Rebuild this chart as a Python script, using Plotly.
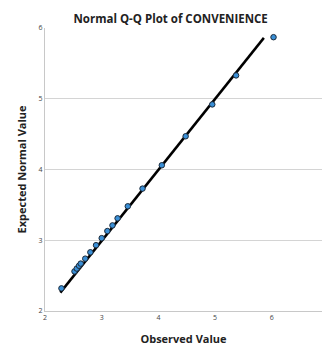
import plotly.graph_objects as go

observed = [2.29, 2.52, 2.56, 2.60, 2.63, 2.71, 2.80, 2.90, 3.00, 3.10, 3.19, 3.28, 3.46, 3.72, 4.06, 4.48, 4.95, 5.37, 6.03]
expected = [2.32, 2.56, 2.60, 2.64, 2.67, 2.74, 2.83, 2.93, 3.03, 3.13, 3.21, 3.31, 3.48, 3.73, 4.06, 4.47, 4.92, 5.33, 5.87]
line_x = [2.27, 5.86]
line_y = [2.26, 5.86]
xticks = [2, 3, 4, 5, 6]
yticks = [2, 3, 4, 5, 6]

fig = go.Figure()
fig.add_trace(go.Scatter(x=line_x, y=line_y, mode="lines",
                         line=dict(color="black", width=2.5), showlegend=False))
fig.add_trace(go.Scatter(x=observed, y=expected, mode="markers",
                         marker=dict(color="#3a8fd6", size=5.5,
                                     line=dict(color="#1b2a3a", width=1)),
                         showlegend=False))
fig.update_layout(
    width=322, height=347,
    margin=dict(l=45, r=0, t=28, b=36),
    plot_bgcolor="white", paper_bgcolor="white",
    font=dict(family="Open Sans", color="#222"),
    title=dict(text="<b>Normal Q-Q Plot of CONVENIENCE</b>", x=0.53, xanchor="center",
               y=0.945, yanchor="middle", font=dict(size=11.5, color="#222")),
    xaxis=dict(range=[2, 6.885], tickvals=xticks, showgrid=False, zeroline=False,
               showline=True, linecolor="#c8c8c8", linewidth=1, ticks="",
               tickfont=dict(size=7, color="#444"),
               title=dict(text="<b>Observed Value</b>", font=dict(size=11, color="#222"), standoff=13)),
    yaxis=dict(range=[2, 6], tickvals=yticks, showgrid=True, gridcolor="#d4d4d4", gridwidth=1,
               zeroline=False, showline=True, linecolor="#c8c8c8", linewidth=1, ticks="",
               tickfont=dict(size=7, color="#444"),
               title=dict(text="<b>Expected Normal Value</b>", font=dict(size=11, color="#222"), standoff=9)),
)
fig.write_html("out.html")
